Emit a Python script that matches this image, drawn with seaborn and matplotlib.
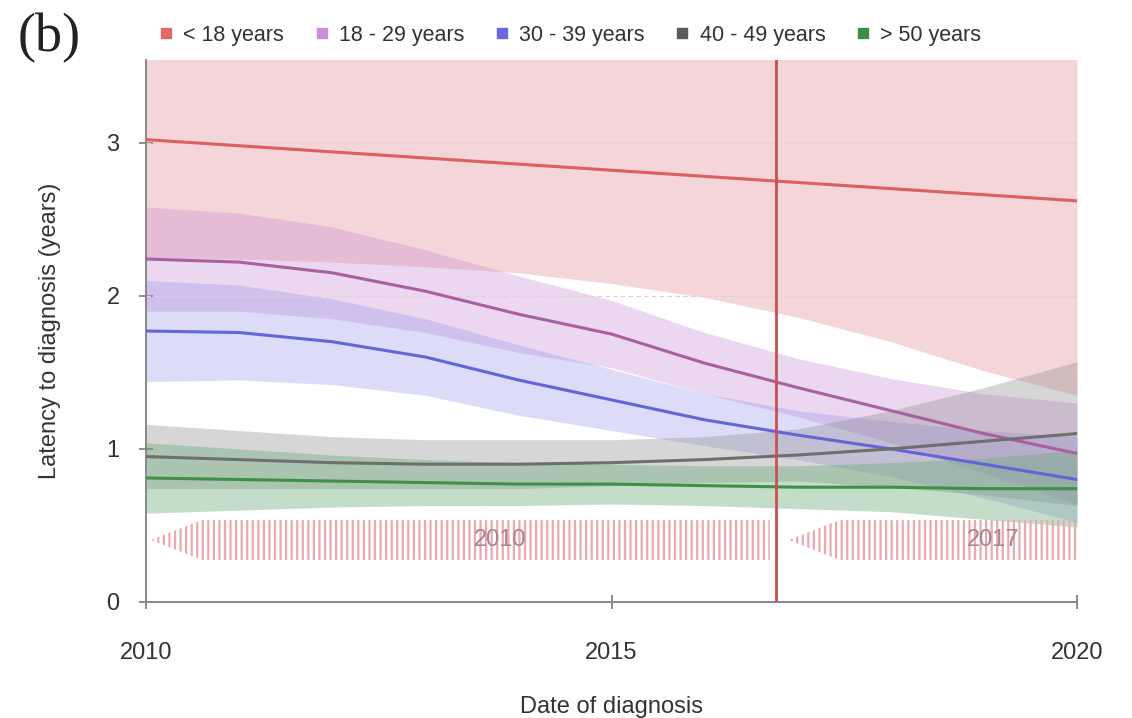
import numpy as np
import pandas as pd
import matplotlib
matplotlib.use("Agg")
import matplotlib.pyplot as plt
from matplotlib.patches import Polygon
from matplotlib.lines import Line2D
import seaborn as sns

# datos (b)
years = [2010, 2011, 2012, 2013, 2014, 2015, 2016, 2017, 2018, 2019, 2020]
groups = ["< 18 years", "18 - 29 years", "30 - 39 years", "40 - 49 years", "> 50 years"]

lat_u18 = [3.02, 2.98, 2.94, 2.90, 2.86, 2.82, 2.78, 2.74, 2.70, 2.66, 2.62]
low_u18 = [2.25, 2.24, 2.22, 2.19, 2.15, 2.08, 1.99, 1.86, 1.70, 1.51, 1.35]

lat_18_29 = [2.24, 2.22, 2.15, 2.03, 1.88, 1.75, 1.56, 1.40, 1.25, 1.10, 0.97]
hw_18_29 = [0.34, 0.32, 0.30, 0.27, 0.25, 0.22, 0.20, 0.19, 0.21, 0.26, 0.33]

lat_30_39 = [1.77, 1.76, 1.70, 1.60, 1.45, 1.32, 1.19, 1.09, 1.00, 0.90, 0.80]
hw_30_39 = [0.33, 0.31, 0.28, 0.25, 0.23, 0.20, 0.17, 0.16, 0.18, 0.22, 0.28]

lat_40_49 = [0.95, 0.93, 0.91, 0.90, 0.90, 0.91, 0.93, 0.96, 1.00, 1.05, 1.10]
hw_40_49 = [0.21, 0.19, 0.17, 0.16, 0.16, 0.15, 0.15, 0.17, 0.25, 0.35, 0.47]

lat_o50 = [0.81, 0.80, 0.79, 0.78, 0.77, 0.77, 0.76, 0.75, 0.75, 0.74, 0.74]
hw_o50 = [0.23, 0.20, 0.17, 0.15, 0.14, 0.13, 0.13, 0.14, 0.16, 0.20, 0.25]

cutoff = 2016.77
era_labels = ["2010", "2017"]
era_start = [2010.05, 2016.9]
era_end = [2016.7, 2020.05]
era_text_x = [2013.8, 2019.1]

line_colors = ["#dc6060", "#a8609f", "#6464d8", "#6e6e6e", "#3f8f46"]
fill_colors = ["#e07a7e", "#c483d2", "#8e8ee8", "#8c8c8c", "#6aab78"]
fill_alpha = [0.30, 0.32, 0.30, 0.35, 0.40]
legend_colors = ["#e06a6a", "#c890d8", "#6a6ae0", "#5a5a5a", "#3d8c45"]

# tabla larga
lat = [lat_u18, lat_18_29, lat_30_39, lat_40_49, lat_o50]
lows = [low_u18,
        [m - h for m, h in zip(lat_18_29, hw_18_29)],
        [m - h for m, h in zip(lat_30_39, hw_30_39)],
        [m - h for m, h in zip(lat_40_49, hw_40_49)],
        [m - h for m, h in zip(lat_o50, hw_o50)]]
highs = [[2 * m - l for m, l in zip(lat_u18, low_u18)],
         [m + h for m, h in zip(lat_18_29, hw_18_29)],
         [m + h for m, h in zip(lat_30_39, hw_30_39)],
         [m + h for m, h in zip(lat_40_49, hw_40_49)],
         [m + h for m, h in zip(lat_o50, hw_o50)]]

rows = []
for g, m, lo, hi in zip(groups, lat, lows, highs):
    for y, a, b, c in zip(years, m, lo, hi):
        rows.append({"year": y, "group": g, "latency": a, "lo": b, "hi": c})
df = pd.DataFrame(rows)

sns.set_style("ticks")
plt.rcParams["font.family"] = ["Liberation Sans", "DejaVu Sans"]
plt.rcParams["hatch.linewidth"] = 1.6

fig = plt.figure(figsize=(11.32, 7.18), dpi=100)
ax = fig.add_axes([146 / 1132, 1 - 602 / 718, (1077 - 146) / 1132, (602 - 60) / 718])

# bandas
for g, fc, a in zip(groups, fill_colors, fill_alpha):
    d = df[df["group"] == g]
    ax.fill_between(d["year"], d["lo"], d["hi"], color=fc, alpha=a, lw=0, zorder=1)

# lineas
sns.lineplot(data=df, x="year", y="latency", hue="group", hue_order=groups,
             palette=dict(zip(groups, line_colors)), lw=2.2, legend=False, ax=ax, zorder=3)

# grilla tenue
for yv in [2, 3]:
    ax.axhline(yv, color="#e6cdd0", lw=0.8, ls=(0, (4, 3)), zorder=2)

# linea de corte
ax.axvline(cutoff, color="#c9504f", lw=2, zorder=4)

# flechas rayadas de los periodos
for lab, x0, x1, tx in zip(era_labels, era_start, era_end, era_text_x):
    top, bot, mid = 0.535, 0.275, 0.405
    taper = 0.55
    poly = Polygon([(x0, mid), (x0 + taper, top), (x1, top), (x1, bot), (x0 + taper, bot)],
                   closed=True, facecolor="none", edgecolor="#eaa9ae", hatch="|||", lw=0, zorder=2)
    ax.add_patch(poly)
    ax.text(tx, mid, lab, ha="center", va="center", fontsize=17, color="#a8848c", zorder=5)

ax.set_xlim(2010, 2020)
ax.set_ylim(0, 3.54)
ax.set_xticks([2010, 2015, 2020])
ax.set_yticks([0, 1, 2, 3])
ax.tick_params(axis="both", direction="inout", length=10, width=1.2, color="#777777",
               labelsize=17, labelcolor="#333333")
ax.tick_params(axis="x", pad=24)
ax.tick_params(axis="y", pad=14)
sns.despine(ax=ax)
for s in ["left", "bottom"]:
    ax.spines[s].set_color("#888888")
    ax.spines[s].set_linewidth(1.4)

ax.set_xlabel("Date of diagnosis", fontsize=17, color="#333333", labelpad=23)
ax.set_ylabel("Latency to diagnosis (years)", fontsize=17, color="#333333", labelpad=33)

handles = [Line2D([], [], marker="s", ls="", color=c, markersize=7) for c in legend_colors]
fig.legend(handles, groups, loc="center left", bbox_to_anchor=(138 / 1132, 1 - 35 / 718),
           ncol=5, frameon=False, fontsize=15.5, handlelength=0.8, handletextpad=0.4,
           columnspacing=1.35, labelcolor="#333333")

fig.text(18 / 1132, 1 - 38 / 718, "(b)", family="Liberation Serif", fontsize=39,
         va="center", ha="left", color="#222222")

fig.savefig("out.png", dpi=100)
